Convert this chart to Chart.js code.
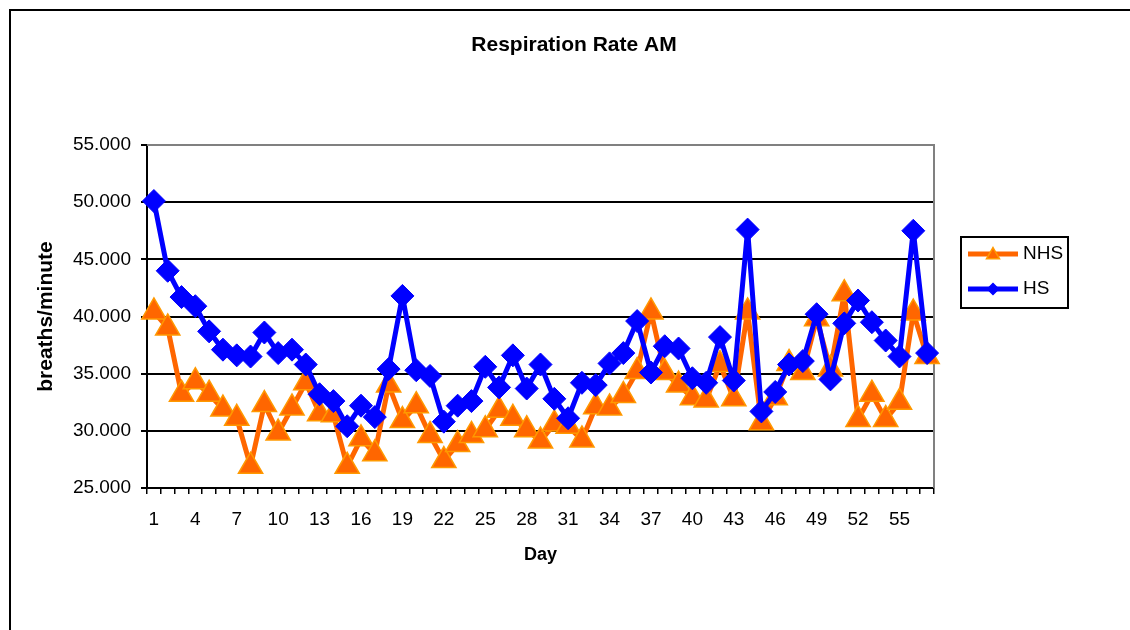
<!DOCTYPE html>
<html>
<head>
<meta charset="utf-8">
<title>Respiration Rate AM</title>
<script src="https://cdn.jsdelivr.net/npm/chart.js@4.4.0/dist/chart.umd.min.js"></script>
<style>
  html, body { margin: 0; padding: 0; background: #fff; overflow: hidden; }
  #frame { position: absolute; left: 9px; top: 9px; width: 1300px; height: 800px; border-left: 2px solid #000; border-top: 2px solid #000; }
  #wrap { position: absolute; left: 0; top: 0; width: 1130px; height: 630px; }
</style>
</head>
<body>
<div id="frame"></div>
<div id="wrap"><canvas id="chart" width="1130" height="630"></canvas></div>
<script>
// Days on the x axis
const days = ["1","2","3","4","5","6","7","8","9","10","11","12","13","14","15","16","17","18","19","20",
  "21","22","23","24","25","26","27","28","29","30","31","32","33","34","35","36","37","38","39","40",
  "41","42","43","44","45","46","47","48","49","50","51","52","53","54","55","56","57"];

// Only every third day gets a label
const shownDays = ["1","4","7","10","13","16","19","22","25","28","31","34","37","40","43","46","49","52","55"];

// Respiration rate (breaths/minute)
const nhsValues = [40.4, 39.0, 33.2, 34.3, 33.2, 31.9, 31.1, 26.9, 32.3, 29.8,
  32.0, 34.2, 31.5, 31.4, 26.9, 29.3, 28.0, 34.0, 30.9, 32.2,
  29.6, 27.4, 28.8, 29.6, 30.1, 31.8, 31.1, 30.1, 29.1, 30.6,
  30.4, 29.2, 32.1, 32.0, 33.1, 35.2, 40.4, 35.1, 34.0, 32.9,
  32.7, 35.8, 32.8, 40.4, 30.7, 32.9, 35.9, 35.1, 39.8, 35.4,
  42.0, 31.0, 33.2, 31.0, 32.5, 40.3, 36.5];

const hsValues = [50.1, 44.0, 41.7, 40.9, 38.7, 37.1, 36.6, 36.5, 38.6, 36.8,
  37.1, 35.8, 33.2, 32.6, 30.4, 32.2, 31.2, 35.4, 41.8, 35.3,
  34.8, 30.8, 32.2, 32.6, 35.6, 33.8, 36.6, 33.7, 35.8, 32.8,
  31.1, 34.2, 34.0, 35.9, 36.8, 39.6, 35.1, 37.4, 37.2, 34.6,
  34.2, 38.2, 34.4, 47.6, 31.7, 33.4, 35.8, 36.1, 40.2, 34.5,
  39.4, 41.4, 39.5, 37.9, 36.5, 47.5, 36.8];

const yMin = 25;
const yMax = 55;
const yStep = 5;

const FONT = "'Liberation Sans', Arial, sans-serif";

// gray border on top/right of the plot area, like Excel
const plotBorder = {
  id: "plotBorder",
  beforeDatasetsDraw(chart) {
    const { ctx, chartArea: a } = chart;
    ctx.save();
    ctx.strokeStyle = "#808080";
    ctx.lineWidth = 2;
    ctx.beginPath();
    ctx.moveTo(a.left, a.top);
    ctx.lineTo(a.right, a.top);
    ctx.lineTo(a.right, a.bottom);
    ctx.stroke();
    ctx.restore();
  }
};

// boxed legend on the right, line + marker sample
const boxedLegend = {
  id: "boxedLegend",
  afterDraw(chart) {
    const ctx = chart.ctx;
    ctx.save();
    ctx.strokeStyle = "#000";
    ctx.lineWidth = 2;
    ctx.strokeRect(961, 237, 107, 71);

    chart.data.datasets.forEach((ds, i) => {
      const y = 254 + i * 35;
      ctx.strokeStyle = ds.borderColor;
      ctx.lineWidth = 5;
      ctx.beginPath();
      ctx.moveTo(968, y);
      ctx.lineTo(1018, y);
      ctx.stroke();

      ctx.fillStyle = ds.pointBackgroundColor;
      ctx.strokeStyle = ds.pointBorderColor;
      ctx.lineWidth = 1.5;
      Chart.helpers.drawPoint(ctx, {
        pointStyle: ds.pointStyle,
        radius: ds.pointStyle === "triangle" ? 7.5 : 5.5,
        rotation: 0,
        borderWidth: 1.5
      }, 993, ds.pointStyle === "triangle" ? y + 1 : y);

      ctx.fillStyle = "#000";
      ctx.font = "19px " + FONT;
      ctx.textBaseline = "middle";
      ctx.textAlign = "left";
      ctx.fillText(ds.label, 1023, y);
    });
    ctx.restore();
  }
};

new Chart(document.getElementById("chart"), {
  type: "line",
  data: {
    labels: days,
    datasets: [
      {
        label: "NHS",
        data: nhsValues,
        borderColor: "#FF6600",
        backgroundColor: "#FF6600",
        borderWidth: 5,
        borderJoinStyle: "round",
        pointStyle: "triangle",
        pointRadius: 14,
        pointBackgroundColor: "#FF6600",
        pointBorderColor: "#FF9900",
        pointBorderWidth: 1.5,
        tension: 0,
        order: 2,
        clip: false
      },
      {
        label: "HS",
        data: hsValues,
        borderColor: "#0000FF",
        backgroundColor: "#0000FF",
        borderWidth: 5,
        borderJoinStyle: "round",
        pointStyle: "rectRot",
        pointRadius: 11.5,
        pointBackgroundColor: "#0000FF",
        pointBorderColor: "#0000FF",
        pointBorderWidth: 1,
        tension: 0,
        order: 1,
        clip: false
      }
    ]
  },
  options: {
    responsive: false,
    animation: false,
    events: [],
    layout: { padding: { left: 18, right: 0, top: 0, bottom: 0 } },
    plugins: {
      legend: { display: false },
      tooltip: { enabled: false },
      title: {
        display: true,
        text: "Respiration Rate AM",
        color: "#000",
        font: { family: FONT, size: 21, weight: "bold" },
        padding: { top: 32.6, bottom: 87.2 }
      }
    },
    scales: {
      x: {
        offset: true,
        grid: {
          offset: true,
          drawOnChartArea: false,
          drawTicks: true,
          tickLength: 6,
          tickColor: "#000",
          lineWidth: 1.5
        },
        border: { display: true, color: "#000", width: 2 },
        ticks: {
          autoSkip: false,
          maxRotation: 0,
          padding: 14,
          color: "#000",
          font: { family: FONT, size: 19 },
          callback: function (value) {
            const lbl = this.getLabelForValue(value);
            return shownDays.includes(lbl) ? lbl : "";
          }
        },
        title: {
          display: true,
          text: "Day",
          color: "#000",
          font: { family: FONT, size: 18, weight: "bold" },
          padding: { top: 0, bottom: 64 }
        },
        afterFit: (scale) => { scale.height = 142; }
      },
      y: {
        min: yMin,
        max: yMax,
        grid: {
          color: (c) => (c.tick && c.tick.value === yMax ? "#808080" : "#000"),
          lineWidth: 2,
          tickLength: 6,
          tickColor: "#000"
        },
        border: { display: true, color: "#000", width: 2 },
        ticks: {
          stepSize: yStep,
          padding: 10,
          color: "#000",
          font: { family: FONT, size: 19 },
          callback: (v) => Number(v).toFixed(3)
        },
        title: {
          display: true,
          text: "breaths/minute",
          color: "#000",
          font: { family: FONT, size: 21, weight: "bold" },
          padding: { top: 15.4, bottom: 0 }
        },
        afterFit: (scale) => { scale.width = 129; }
      },
      // empty right-hand axis that only reserves room for the legend
      yRight: {
        position: "right",
        display: true,
        grid: { display: false, drawTicks: false },
        border: { display: false },
        ticks: { display: false },
        afterFit: (scale) => { scale.width = 196; }
      }
    }
  },
  plugins: [plotBorder, boxedLegend]
});
</script>
</body>
</html>
